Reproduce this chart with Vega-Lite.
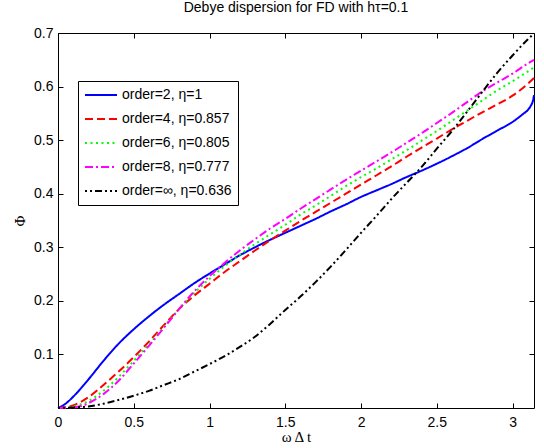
{
  "$schema": "https://vega.github.io/schema/vega-lite/v6.json",
  "width": 476,
  "height": 375,
  "autosize": {"type": "none"},
  "padding": {"left": 58, "top": 33, "right": 10, "bottom": 40},
  "background": "white",
  "title": {"text": "Debye dispersion for FD with hτ=0.1", "font": "Liberation Sans", "fontSize": 14, "fontWeight": "normal", "color": "black", "offset": 11},
  "config": {
    "view": {"stroke": "black", "strokeWidth": 1},
    "axis": {"labelFont": "Liberation Sans", "labelFontSize": 14, "labelColor": "black", "titleFont": "Liberation Serif", "titleFontSize": 15, "titleFontWeight": "normal", "titleColor": "black", "grid": false, "domain": false, "ticks": true, "tickColor": "#000000", "tickSize": 5, "tickWidth": 1, "offset": -5, "zindex": 1}
  },
  "data": {"values": [
    {"x": 0, "phi": 0, "s": "order=2, η=1"},
    {"x": 0.05, "phi": 0.008, "s": "order=2, η=1"},
    {"x": 0.1, "phi": 0.021, "s": "order=2, η=1"},
    {"x": 0.2, "phi": 0.053, "s": "order=2, η=1"},
    {"x": 0.3, "phi": 0.088, "s": "order=2, η=1"},
    {"x": 0.4, "phi": 0.12, "s": "order=2, η=1"},
    {"x": 0.5, "phi": 0.147, "s": "order=2, η=1"},
    {"x": 0.6, "phi": 0.171, "s": "order=2, η=1"},
    {"x": 0.7, "phi": 0.193, "s": "order=2, η=1"},
    {"x": 0.8, "phi": 0.213, "s": "order=2, η=1"},
    {"x": 0.9, "phi": 0.233, "s": "order=2, η=1"},
    {"x": 1.0, "phi": 0.251, "s": "order=2, η=1"},
    {"x": 1.1, "phi": 0.268, "s": "order=2, η=1"},
    {"x": 1.2, "phi": 0.285, "s": "order=2, η=1"},
    {"x": 1.3, "phi": 0.3, "s": "order=2, η=1"},
    {"x": 1.4, "phi": 0.314, "s": "order=2, η=1"},
    {"x": 1.5, "phi": 0.327, "s": "order=2, η=1"},
    {"x": 1.6, "phi": 0.34, "s": "order=2, η=1"},
    {"x": 1.7, "phi": 0.353, "s": "order=2, η=1"},
    {"x": 1.8, "phi": 0.367, "s": "order=2, η=1"},
    {"x": 1.9, "phi": 0.38, "s": "order=2, η=1"},
    {"x": 2.0, "phi": 0.394, "s": "order=2, η=1"},
    {"x": 2.1, "phi": 0.406, "s": "order=2, η=1"},
    {"x": 2.2, "phi": 0.418, "s": "order=2, η=1"},
    {"x": 2.3, "phi": 0.431, "s": "order=2, η=1"},
    {"x": 2.4, "phi": 0.443, "s": "order=2, η=1"},
    {"x": 2.5, "phi": 0.456, "s": "order=2, η=1"},
    {"x": 2.6, "phi": 0.47, "s": "order=2, η=1"},
    {"x": 2.7, "phi": 0.485, "s": "order=2, η=1"},
    {"x": 2.8, "phi": 0.502, "s": "order=2, η=1"},
    {"x": 2.9, "phi": 0.518, "s": "order=2, η=1"},
    {"x": 3.0, "phi": 0.534, "s": "order=2, η=1"},
    {"x": 3.07, "phi": 0.549, "s": "order=2, η=1"},
    {"x": 3.1, "phi": 0.556, "s": "order=2, η=1"},
    {"x": 3.12, "phi": 0.564, "s": "order=2, η=1"},
    {"x": 3.135, "phi": 0.574, "s": "order=2, η=1"},
    {"x": 3.1416, "phi": 0.584, "s": "order=2, η=1"},

    {"x": 0, "phi": 0, "s": "order=4, η=0.857"},
    {"x": 0.1, "phi": 0.005, "s": "order=4, η=0.857"},
    {"x": 0.2, "phi": 0.02, "s": "order=4, η=0.857"},
    {"x": 0.3, "phi": 0.043, "s": "order=4, η=0.857"},
    {"x": 0.4, "phi": 0.068, "s": "order=4, η=0.857"},
    {"x": 0.5, "phi": 0.095, "s": "order=4, η=0.857"},
    {"x": 0.6, "phi": 0.124, "s": "order=4, η=0.857"},
    {"x": 0.7, "phi": 0.155, "s": "order=4, η=0.857"},
    {"x": 0.8, "phi": 0.185, "s": "order=4, η=0.857"},
    {"x": 0.9, "phi": 0.21, "s": "order=4, η=0.857"},
    {"x": 1.0, "phi": 0.232, "s": "order=4, η=0.857"},
    {"x": 1.1, "phi": 0.254, "s": "order=4, η=0.857"},
    {"x": 1.2, "phi": 0.274, "s": "order=4, η=0.857"},
    {"x": 1.3, "phi": 0.294, "s": "order=4, η=0.857"},
    {"x": 1.4, "phi": 0.313, "s": "order=4, η=0.857"},
    {"x": 1.5, "phi": 0.331, "s": "order=4, η=0.857"},
    {"x": 1.6, "phi": 0.349, "s": "order=4, η=0.857"},
    {"x": 1.7, "phi": 0.366, "s": "order=4, η=0.857"},
    {"x": 1.8, "phi": 0.383, "s": "order=4, η=0.857"},
    {"x": 1.9, "phi": 0.4, "s": "order=4, η=0.857"},
    {"x": 2.0, "phi": 0.417, "s": "order=4, η=0.857"},
    {"x": 2.1, "phi": 0.434, "s": "order=4, η=0.857"},
    {"x": 2.2, "phi": 0.451, "s": "order=4, η=0.857"},
    {"x": 2.3, "phi": 0.469, "s": "order=4, η=0.857"},
    {"x": 2.4, "phi": 0.486, "s": "order=4, η=0.857"},
    {"x": 2.5, "phi": 0.503, "s": "order=4, η=0.857"},
    {"x": 2.6, "phi": 0.52, "s": "order=4, η=0.857"},
    {"x": 2.7, "phi": 0.536, "s": "order=4, η=0.857"},
    {"x": 2.8, "phi": 0.552, "s": "order=4, η=0.857"},
    {"x": 2.9, "phi": 0.567, "s": "order=4, η=0.857"},
    {"x": 3.0, "phi": 0.583, "s": "order=4, η=0.857"},
    {"x": 3.1, "phi": 0.605, "s": "order=4, η=0.857"},
    {"x": 3.1416, "phi": 0.616, "s": "order=4, η=0.857"},

    {"x": 0, "phi": 0, "s": "order=6, η=0.805"},
    {"x": 0.1, "phi": 0.003, "s": "order=6, η=0.805"},
    {"x": 0.2, "phi": 0.013, "s": "order=6, η=0.805"},
    {"x": 0.3, "phi": 0.032, "s": "order=6, η=0.805"},
    {"x": 0.4, "phi": 0.058, "s": "order=6, η=0.805"},
    {"x": 0.5, "phi": 0.088, "s": "order=6, η=0.805"},
    {"x": 0.6, "phi": 0.119, "s": "order=6, η=0.805"},
    {"x": 0.7, "phi": 0.152, "s": "order=6, η=0.805"},
    {"x": 0.8, "phi": 0.185, "s": "order=6, η=0.805"},
    {"x": 0.9, "phi": 0.215, "s": "order=6, η=0.805"},
    {"x": 1.0, "phi": 0.241, "s": "order=6, η=0.805"},
    {"x": 1.1, "phi": 0.265, "s": "order=6, η=0.805"},
    {"x": 1.2, "phi": 0.286, "s": "order=6, η=0.805"},
    {"x": 1.3, "phi": 0.306, "s": "order=6, η=0.805"},
    {"x": 1.4, "phi": 0.324, "s": "order=6, η=0.805"},
    {"x": 1.5, "phi": 0.342, "s": "order=6, η=0.805"},
    {"x": 1.6, "phi": 0.361, "s": "order=6, η=0.805"},
    {"x": 1.7, "phi": 0.378, "s": "order=6, η=0.805"},
    {"x": 1.8, "phi": 0.396, "s": "order=6, η=0.805"},
    {"x": 1.9, "phi": 0.414, "s": "order=6, η=0.805"},
    {"x": 2.0, "phi": 0.431, "s": "order=6, η=0.805"},
    {"x": 2.1, "phi": 0.447, "s": "order=6, η=0.805"},
    {"x": 2.2, "phi": 0.464, "s": "order=6, η=0.805"},
    {"x": 2.3, "phi": 0.481, "s": "order=6, η=0.805"},
    {"x": 2.4, "phi": 0.499, "s": "order=6, η=0.805"},
    {"x": 2.5, "phi": 0.517, "s": "order=6, η=0.805"},
    {"x": 2.6, "phi": 0.536, "s": "order=6, η=0.805"},
    {"x": 2.7, "phi": 0.555, "s": "order=6, η=0.805"},
    {"x": 2.8, "phi": 0.574, "s": "order=6, η=0.805"},
    {"x": 2.9, "phi": 0.593, "s": "order=6, η=0.805"},
    {"x": 3.0, "phi": 0.61, "s": "order=6, η=0.805"},
    {"x": 3.1, "phi": 0.628, "s": "order=6, η=0.805"},
    {"x": 3.1416, "phi": 0.636, "s": "order=6, η=0.805"},

    {"x": 0, "phi": 0, "s": "order=8, η=0.777"},
    {"x": 0.1, "phi": 0.001, "s": "order=8, η=0.777"},
    {"x": 0.2, "phi": 0.009, "s": "order=8, η=0.777"},
    {"x": 0.3, "phi": 0.026, "s": "order=8, η=0.777"},
    {"x": 0.4, "phi": 0.051, "s": "order=8, η=0.777"},
    {"x": 0.5, "phi": 0.083, "s": "order=8, η=0.777"},
    {"x": 0.6, "phi": 0.116, "s": "order=8, η=0.777"},
    {"x": 0.7, "phi": 0.15, "s": "order=8, η=0.777"},
    {"x": 0.8, "phi": 0.185, "s": "order=8, η=0.777"},
    {"x": 0.9, "phi": 0.218, "s": "order=8, η=0.777"},
    {"x": 1.0, "phi": 0.246, "s": "order=8, η=0.777"},
    {"x": 1.1, "phi": 0.271, "s": "order=8, η=0.777"},
    {"x": 1.2, "phi": 0.294, "s": "order=8, η=0.777"},
    {"x": 1.3, "phi": 0.315, "s": "order=8, η=0.777"},
    {"x": 1.4, "phi": 0.335, "s": "order=8, η=0.777"},
    {"x": 1.5, "phi": 0.353, "s": "order=8, η=0.777"},
    {"x": 1.6, "phi": 0.372, "s": "order=8, η=0.777"},
    {"x": 1.7, "phi": 0.39, "s": "order=8, η=0.777"},
    {"x": 1.8, "phi": 0.408, "s": "order=8, η=0.777"},
    {"x": 1.9, "phi": 0.426, "s": "order=8, η=0.777"},
    {"x": 2.0, "phi": 0.443, "s": "order=8, η=0.777"},
    {"x": 2.1, "phi": 0.46, "s": "order=8, η=0.777"},
    {"x": 2.2, "phi": 0.477, "s": "order=8, η=0.777"},
    {"x": 2.3, "phi": 0.495, "s": "order=8, η=0.777"},
    {"x": 2.4, "phi": 0.513, "s": "order=8, η=0.777"},
    {"x": 2.5, "phi": 0.532, "s": "order=8, η=0.777"},
    {"x": 2.6, "phi": 0.551, "s": "order=8, η=0.777"},
    {"x": 2.7, "phi": 0.571, "s": "order=8, η=0.777"},
    {"x": 2.8, "phi": 0.591, "s": "order=8, η=0.777"},
    {"x": 2.9, "phi": 0.608, "s": "order=8, η=0.777"},
    {"x": 3.0, "phi": 0.624, "s": "order=8, η=0.777"},
    {"x": 3.1, "phi": 0.643, "s": "order=8, η=0.777"},
    {"x": 3.1416, "phi": 0.65, "s": "order=8, η=0.777"},

    {"x": 0, "phi": 0, "s": "order=∞, η=0.636"},
    {"x": 0.1, "phi": 0.001, "s": "order=∞, η=0.636"},
    {"x": 0.2, "phi": 0.003, "s": "order=∞, η=0.636"},
    {"x": 0.3, "phi": 0.008, "s": "order=∞, η=0.636"},
    {"x": 0.4, "phi": 0.015, "s": "order=∞, η=0.636"},
    {"x": 0.5, "phi": 0.023, "s": "order=∞, η=0.636"},
    {"x": 0.6, "phi": 0.032, "s": "order=∞, η=0.636"},
    {"x": 0.7, "phi": 0.043, "s": "order=∞, η=0.636"},
    {"x": 0.8, "phi": 0.054, "s": "order=∞, η=0.636"},
    {"x": 0.9, "phi": 0.068, "s": "order=∞, η=0.636"},
    {"x": 1.0, "phi": 0.082, "s": "order=∞, η=0.636"},
    {"x": 1.1, "phi": 0.097, "s": "order=∞, η=0.636"},
    {"x": 1.2, "phi": 0.114, "s": "order=∞, η=0.636"},
    {"x": 1.3, "phi": 0.133, "s": "order=∞, η=0.636"},
    {"x": 1.4, "phi": 0.157, "s": "order=∞, η=0.636"},
    {"x": 1.5, "phi": 0.183, "s": "order=∞, η=0.636"},
    {"x": 1.6, "phi": 0.208, "s": "order=∞, η=0.636"},
    {"x": 1.7, "phi": 0.235, "s": "order=∞, η=0.636"},
    {"x": 1.8, "phi": 0.264, "s": "order=∞, η=0.636"},
    {"x": 1.9, "phi": 0.295, "s": "order=∞, η=0.636"},
    {"x": 2.0, "phi": 0.327, "s": "order=∞, η=0.636"},
    {"x": 2.1, "phi": 0.358, "s": "order=∞, η=0.636"},
    {"x": 2.2, "phi": 0.39, "s": "order=∞, η=0.636"},
    {"x": 2.3, "phi": 0.42, "s": "order=∞, η=0.636"},
    {"x": 2.4, "phi": 0.45, "s": "order=∞, η=0.636"},
    {"x": 2.5, "phi": 0.484, "s": "order=∞, η=0.636"},
    {"x": 2.6, "phi": 0.517, "s": "order=∞, η=0.636"},
    {"x": 2.7, "phi": 0.553, "s": "order=∞, η=0.636"},
    {"x": 2.8, "phi": 0.59, "s": "order=∞, η=0.636"},
    {"x": 2.9, "phi": 0.626, "s": "order=∞, η=0.636"},
    {"x": 3.0, "phi": 0.658, "s": "order=∞, η=0.636"},
    {"x": 3.1, "phi": 0.688, "s": "order=∞, η=0.636"},
    {"x": 3.1416, "phi": 0.699, "s": "order=∞, η=0.636"}
  ]},
  "layer": [
    {
      "mark": {"type": "line", "strokeWidth": 2, "interpolate": "monotone"},
      "encoding": {
        "x": {"field": "x", "type": "quantitative", "scale": {"domain": [0, 3.14159], "nice": false, "zero": false},
              "axis": {"orient": "bottom", "values": [0, 0.5, 1, 1.5, 2, 2.5, 3], "format": "~g", "title": "ω Δ t", "labelPadding": 7, "titlePadding": 0, "labelFlush": false}},
        "y": {"field": "phi", "type": "quantitative", "scale": {"domain": [0, 0.7], "nice": false},
              "axis": {"orient": "left", "values": [0.1, 0.2, 0.3, 0.4, 0.5, 0.6, 0.7], "title": "Φ", "labelPadding": 5, "titlePadding": 6, "labelFlush": false, "format": ".1f"}},
        "color": {"field": "s", "type": "nominal",
                  "scale": {"domain": ["order=2, η=1", "order=4, η=0.857", "order=6, η=0.805", "order=8, η=0.777", "order=∞, η=0.636"],
                            "range": ["#0000ff", "#ff0000", "#00ff00", "#ff00ff", "#000000"]},
                  "legend": {"title": null, "orient": "none", "legendX": 20, "legendY": 48, "strokeColor": "black", "fillColor": "white", "padding": 6,
                             "labelFont": "Liberation Sans", "labelFontSize": 14, "labelColor": "black", "labelOffset": 4,
                             "symbolType": "stroke", "symbolSize": 1024, "symbolStrokeWidth": 2, "clipHeight": 16, "rowPadding": 8, "labelLimit": 300}},
        "strokeDash": {"field": "s", "type": "nominal",
                       "scale": {"domain": ["order=2, η=1", "order=4, η=0.857", "order=6, η=0.805", "order=8, η=0.777", "order=∞, η=0.636"],
                                 "range": [[1, 0], [8, 4], [2, 3.5], [8, 3, 2, 3], [2, 3, 2, 3, 7, 3]]},
                       "legend": null}
      }
    },
    {
      "mark": {"type": "line", "opacity": 0},
      "encoding": {
        "x": {"field": "x", "type": "quantitative", "axis": {"orient": "top", "values": [0, 0.5, 1, 1.5, 2, 2.5, 3], "labels": false, "title": null}},
        "y": {"field": "phi", "type": "quantitative", "axis": {"orient": "right", "values": [0.1, 0.2, 0.3, 0.4, 0.5, 0.6, 0.7], "labels": false, "title": null}},
        "detail": {"field": "s", "type": "nominal"}
      }
    }
  ],
  "resolve": {"axis": {"x": "independent", "y": "independent"}}
}
